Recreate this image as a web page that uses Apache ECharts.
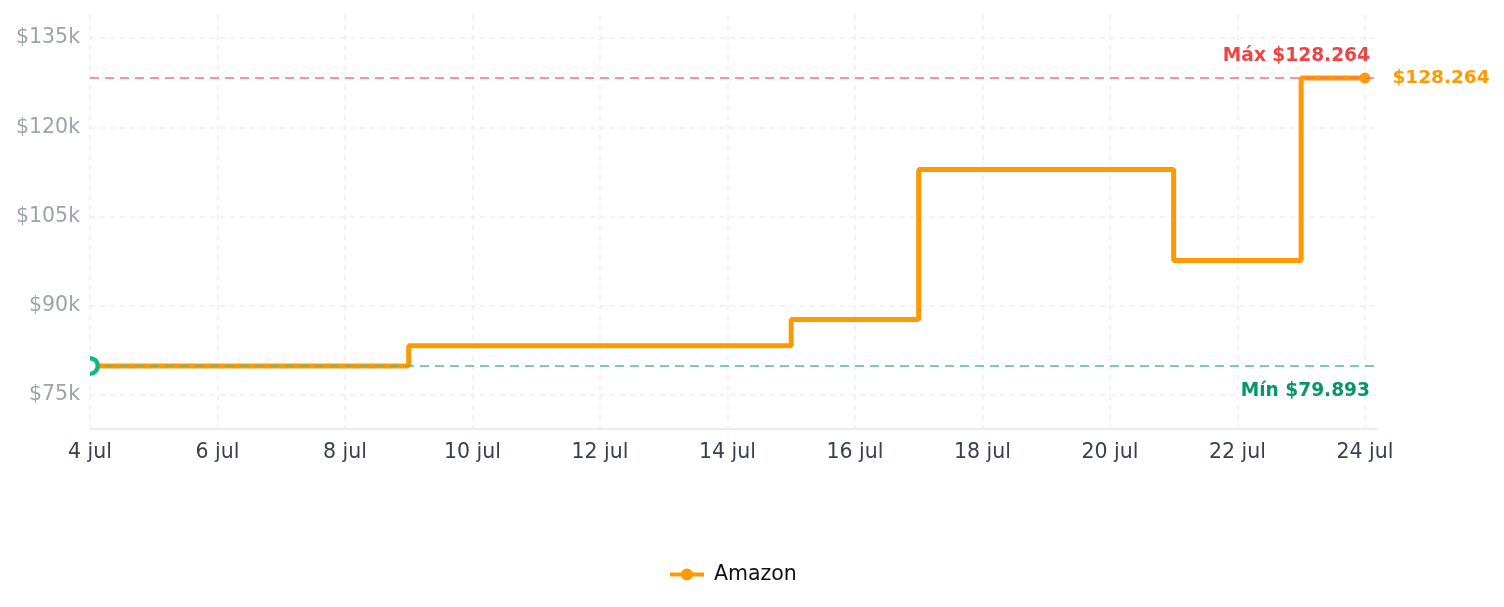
<!DOCTYPE html>
<html>
<head>
<meta charset="utf-8">
<script src="https://cdn.jsdelivr.net/npm/echarts@6/dist/echarts.min.js"></script>
<style>
  html, body { margin: 0; padding: 0; background: #fff; }
  #chart { width: 1504px; height: 607px; }
</style>
</head>
<body>
<div id="chart"></div>
<script>
// ---- data ----
const seriesName = 'Amazon';
const days = [4, 5, 6, 7, 8, 9, 10, 11, 12, 13, 14, 15, 16, 17, 18, 19, 20, 21, 22, 23, 24];
const prices = [79893, 79893, 79893, 79893, 79893, 83300, 83300, 83300, 83300, 83300, 83300,
                87700, 87700, 112900, 112900, 112900, 112900, 97600, 97600, 128264, 128264];
const xTickDays = [4, 6, 8, 10, 12, 14, 16, 18, 20, 22, 24];
const yTickValues = [75000, 90000, 105000, 120000, 135000];
const maxPrice = 128264;
const minPrice = 79893;
const monthLabel = 'jul';

function fmtMoney(v) {
  return '$' + String(Math.round(v)).replace(/\B(?=(\d{3})+(?!\d))/g, '.');
}

const ORANGE = '#ff9900';
const FONT = 'DejaVu Sans';
const lastIdx = prices.length - 1;
const lineData = days.map((d, i) => {
  if (i === lastIdx) {
    return {
      value: [d, prices[i]],
      symbol: 'circle',
      symbolSize: 11,
      label: {
        show: true,
        position: 'right',
        distance: 22,
        padding: [2, 0, 0, 0],
        formatter: (p) => fmtMoney(p.value[1]),
        color: ORANGE,
        fontWeight: 'bold',
        fontSize: 18.5,
        fontFamily: FONT
      }
    };
  }
  return { value: [d, prices[i]], symbol: 'none' };
});

const chart = echarts.init(document.getElementById('chart'), null, { renderer: 'canvas' });
chart.setOption({
  animation: false,
  textStyle: { fontFamily: FONT },
  grid: { left: 90, right: 127, top: 15, bottom: 178 },
  legend: {
    data: [{
      name: seriesName,
      icon: 'path://M0,4 L34,4 L34,8 L0,8 Z M11,6 A6,6 0 1,1 23,6 A6,6 0 1,1 11,6 Z',
      itemStyle: { color: ORANGE }
    }],
    bottom: 17,
    left: 665,
    itemWidth: 34,
    itemHeight: 12,
    textStyle: { fontSize: 20.5, color: '#111', fontFamily: FONT, padding: [0, 0, 0, 5] }
  },
  xAxis: {
    type: 'value',
    min: 4,
    max: 24.19,
    axisLine: { show: true, lineStyle: { color: '#e5e7eb', width: 1.5 } },
    axisTick: { show: false, customValues: xTickDays },
    axisLabel: {
      customValues: xTickDays,
      formatter: (v) => v + ' ' + monthLabel,
      color: '#374151',
      fontSize: 20.5,
      margin: 13,
      fontFamily: FONT
    },
    splitLine: { show: true, lineStyle: { color: '#f0f0f0', width: 1.5, type: [5, 5] } }
  },
  yAxis: {
    type: 'value',
    min: 69300,
    max: 138870,
    axisLine: { show: false },
    axisTick: { show: false, customValues: yTickValues },
    axisLabel: {
      customValues: yTickValues,
      formatter: (v) => '$' + (v / 1000) + 'k',
      color: '#9ca3af',
      fontSize: 20.5,
      margin: 10,
      padding: [4, 0, 0, 0],
      fontFamily: FONT
    },
    splitLine: { show: true, lineStyle: { color: '#f0f0f0', width: 1.5, type: [5, 5] } }
  },
  series: [
    {
      name: seriesName,
      type: 'line',
      step: 'end',
      data: lineData,
      symbol: 'circle',
      symbolSize: 11,
      color: ORANGE,
      lineStyle: { color: ORANGE, width: 5 },
      itemStyle: { color: ORANGE },
      emphasis: { disabled: true },
      z: 3,
      markLine: {
        silent: true,
        symbol: 'none',
        animation: false,
        data: [
          {
            yAxis: maxPrice,
            lineStyle: { color: '#f87171', width: 1.5, type: [9, 6] },
            label: {
              show: true,
              position: 'insideEndTop',
              distance: [7, 12],
              formatter: 'Máx ' + fmtMoney(maxPrice),
              color: '#ef4444',
              fontWeight: 'bold',
              fontSize: 18.6,
              fontFamily: FONT
            }
          },
          {
            yAxis: minPrice,
            lineStyle: { color: '#4fbf8f', width: 1.5, type: [9, 6] },
            label: {
              show: true,
              position: 'insideEndBottom',
              distance: [7, 16],
              formatter: 'Mín ' + fmtMoney(minPrice),
              color: '#059669',
              fontWeight: 'bold',
              fontSize: 18.6,
              fontFamily: FONT
            }
          }
        ]
      }
    },
    {
      name: 'minPoint',
      type: 'custom',
      clip: true,
      z: 5,
      data: [[days[0], prices[0]]],
      renderItem: (params, api) => {
        const pt = api.coord([api.value(0), api.value(1)]);
        return {
          type: 'circle',
          shape: { cx: pt[0], cy: pt[1], r: 7.8 },
          style: { fill: '#ffffff', stroke: '#10b981', lineWidth: 4.5 }
        };
      },
      silent: true
    }
  ]
});
</script>
</body>
</html>
